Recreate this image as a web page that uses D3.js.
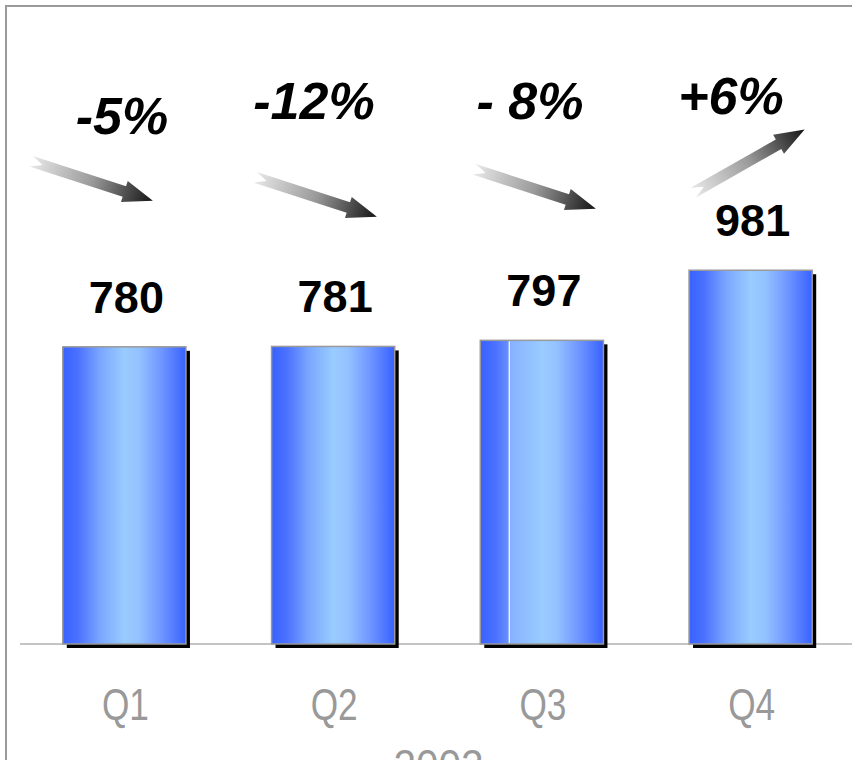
<!DOCTYPE html>
<html>
<head>
<meta charset="utf-8">
<script src="https://cdn.jsdelivr.net/npm/d3@7"></script>
<style>
  html, body { margin: 0; padding: 0; background: #fff; }
  svg { display: block; }
</style>
</head>
<body>
<script>
// Quarterly figures for 2002
const quarters = ["Q1", "Q2", "Q3", "Q4"];
const values = [780, 781, 797, 981];
const changes = [-5, -12, -8, 6];
const changeLabels = ["-5%", "-12%", "- 8%", "+6%"];
const yearLabel = "2002";

const W = 852, H = 760;
const svg = d3.select("body").append("svg").attr("width", W).attr("height", H);

const x = d3.scaleBand().domain(quarters).range([20, 855]).paddingInner(0.41).paddingOuter(0.205);
const y = d3.scaleLinear().domain([0, 1000]).range([644, 263]);

const defs = svg.append("defs");

// cylinder-like horizontal shading for the bars
const barGrad = defs.append("linearGradient").attr("id", "barGrad").attr("x1", 0).attr("x2", 1).attr("y1", 0).attr("y2", 0);
[[0, "#3862ff"], [0.12, "#4a70ff"], [0.3, "#7aa6ff"], [0.5, "#99ccff"], [0.62, "#93c2ff"], [0.8, "#6f96ff"], [1, "#3862ff"]]
  .forEach(([o, c]) => barGrad.append("stop").attr("offset", o).attr("stop-color", c));

const barGradSplit = defs.append("linearGradient").attr("id", "barGradSplit").attr("x1", 0).attr("x2", 1).attr("y1", 0).attr("y2", 0);
[[0, "#3862ff"], [0.12, "#4a70ff"], [0.235, "#6a90ff"], [0.235, "#86b0ff"], [0.5, "#99ccff"], [0.62, "#93c2ff"], [0.8, "#6f96ff"], [1, "#3862ff"]]
  .forEach(([o, c]) => barGradSplit.append("stop").attr("offset", o).attr("stop-color", c));

// arrow shading, light at the tail and dark at the head
const arrowGrad = defs.append("linearGradient").attr("id", "arrowGrad").attr("x1", 0).attr("x2", 1).attr("y1", 0).attr("y2", 0);
[[0, "#e8e8e8"], [0.5, "#9a9a9a"], [1, "#141414"]]
  .forEach(([o, c]) => arrowGrad.append("stop").attr("offset", o).attr("stop-color", c));

// outer frame
svg.append("path")
  .attr("d", `M6,${H + 5} L6,6 L${W + 5},6`)
  .attr("fill", "none").attr("stroke", "#9a9a9a").attr("stroke-width", 2);

// baseline
svg.append("line")
  .attr("x1", 20).attr("x2", W).attr("y1", y(0)).attr("y2", y(0))
  .attr("stroke", "#c4c4c4").attr("stroke-width", 2);

const bars = svg.append("g").selectAll("g").data(quarters).join("g");

// drop shadows
bars.append("rect")
  .attr("x", d => x(d) + 4)
  .attr("y", (d, i) => y(values[i]) + 4)
  .attr("width", x.bandwidth())
  .attr("height", (d, i) => y(0) - y(values[i]))
  .attr("fill", "#000");

bars.append("rect")
  .attr("x", d => x(d))
  .attr("y", (d, i) => y(values[i]))
  .attr("width", x.bandwidth())
  .attr("height", (d, i) => y(0) - y(values[i]))
  .attr("fill", (d, i) => i === 2 ? "url(#barGradSplit)" : "url(#barGrad)")
  .attr("stroke", "#9a9a9a").attr("stroke-width", 1.5);

// seam in the third bar
bars.filter((d, i) => i === 2).append("line")
  .attr("x1", d => x(d) + x.bandwidth() * 0.235).attr("x2", d => x(d) + x.bandwidth() * 0.235)
  .attr("y1", y(values[2]) + 1).attr("y2", y(0) - 1)
  .attr("stroke", "#fff").attr("stroke-width", 1.2);

// value labels
svg.append("g").selectAll("text").data(quarters).join("text")
  .attr("x", d => x(d) + x.bandwidth() / 2 + 2)
  .attr("y", (d, i) => y(values[i]) - 34)
  .attr("text-anchor", "middle")
  .attr("font-family", "'Liberation Sans', Arial, sans-serif")
  .attr("font-weight", "bold").attr("font-size", 45).attr("fill", "#000")
  .text((d, i) => values[i]);

// quarter labels, set in a condensed face
const axisFont = "'Liberation Sans', Arial, sans-serif";
const squeeze = 0.8;
svg.append("g").selectAll("text").data(quarters).join("text")
  .attr("transform", d => `translate(${x(d) + x.bandwidth() / 2 + 1},720) scale(${squeeze},1)`)
  .attr("text-anchor", "middle")
  .attr("font-family", axisFont).attr("font-size", 44).attr("fill", "#999")
  .text(d => d);

// year caption below the quarters, running past the lower edge
svg.append("text")
  .attr("transform", `translate(${(x("Q2") + x("Q3") + x.bandwidth()) / 2 + 1},781) scale(0.92,1)`)
  .attr("text-anchor", "middle")
  .attr("font-family", axisFont).attr("font-size", 44).attr("fill", "#999")
  .text(yearLabel);

// change annotations: arrow plus percentage above each bar
const note = d3.scalePoint().domain(quarters).range([92, 749]);
const noteLayout = [
  { dx: 0, dy: 181, lx: 30, ly: 134 },
  { dx: 5, dy: 197, lx: 3, ly: 119 },
  { dx: 5, dy: 189, lx: 0, ly: 119 },
  { dx: 0, dy: 161, lx: -18, ly: 114 }
];
const L = 128;
const arrowPath = `M0,-5.5 L98,-5.5 L98,-11 L${L},0 L98,11 L98,5.5 L0,5.5 L12,0 Z`;

const notes = svg.append("g").selectAll("g").data(quarters).join("g");
notes.append("path")
  .attr("d", arrowPath)
  .attr("fill", "url(#arrowGrad)")
  .attr("transform", (d, i) => {
    const cx = note(d) + noteLayout[i].dx, cy = noteLayout[i].dy;
    const ang = changes[i] < 0 ? 18 : -29.6;
    return `translate(${cx},${cy}) rotate(${ang}) translate(${-L / 2},0)`;
  });

notes.append("text")
  .attr("x", (d, i) => note(d) + noteLayout[i].lx)
  .attr("y", (d, i) => noteLayout[i].ly)
  .attr("text-anchor", "middle")
  .attr("font-family", "'Liberation Sans', Arial, sans-serif")
  .attr("font-weight", "bold").attr("font-style", "italic")
  .attr("font-size", 52).attr("fill", "#000")
  .text((d, i) => changeLabels[i]);
</script>
</body>
</html>
